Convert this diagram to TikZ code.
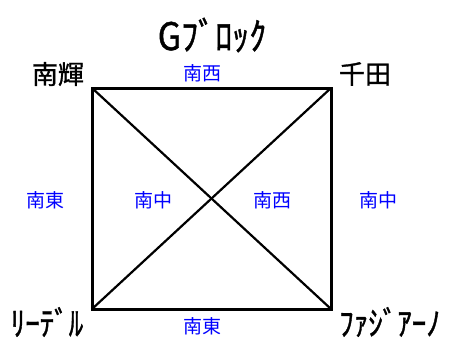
\documentclass[tikz,border=0pt]{standalone}
\usepackage{fontspec}
\usepackage{graphicx}
\newfontfamily\jp{Noto Sans CJK JP}
\newfontfamily\jpb{Noto Sans CJK JP}[FakeBold=1.2]
\begin{document}
\begin{tikzpicture}[x=1pt,y=-1pt,
  corner/.style={font=\jpb\fontsize{26}{26}\selectfont, text=black, inner sep=0pt},
  kana/.style={font=\jpb\fontsize{29}{29}\selectfont, text=black, inner sep=0pt},
  lbl/.style={font=\jp\fontsize{19}{19}\selectfont, text=blue, inner sep=0pt},
  frame/.style={line width=3pt, black},
  diag/.style={line width=2.2pt, black}]
\useasboundingbox (0,0) rectangle (449,340);
\coordinate (tl) at (92,88);
\coordinate (tr) at (331,88);
\coordinate (bl) at (92,309);
\coordinate (br) at (331,309);
\draw[diag] (tl) -- (br);
\draw[diag] (tr) -- (bl);
\draw[frame] (tl) -- (tr) -- (br) -- (bl) -- cycle;
\node[kana, font=\jpb\fontsize{34}{34}\selectfont] (title) at (212,35) {\scalebox{1}[1.12]{Gﾌﾞﾛｯｸ}};
\node[corner] (nk) at (58,74) {南輝};
\node[corner] (sd) at (365,74) {千田};
\node[kana] (rd) at (47,322) {\scalebox{1}[1.15]{ﾘｰﾃﾞﾙ}};
\node[kana] (fj) at (390,322) {\scalebox{1}[1.15]{ﾌｧｼﾞｱｰﾉ}};
\node[lbl] (l1) at (202,73) {南西};
\node[lbl] (l2) at (202,326) {南東};
\node[lbl] (l3) at (45,200) {南東};
\node[lbl] (l4) at (153,200) {南中};
\node[lbl] (l5) at (272,200) {南西};
\node[lbl] (l6) at (378,200) {南中};
\end{tikzpicture}
\end{document}
